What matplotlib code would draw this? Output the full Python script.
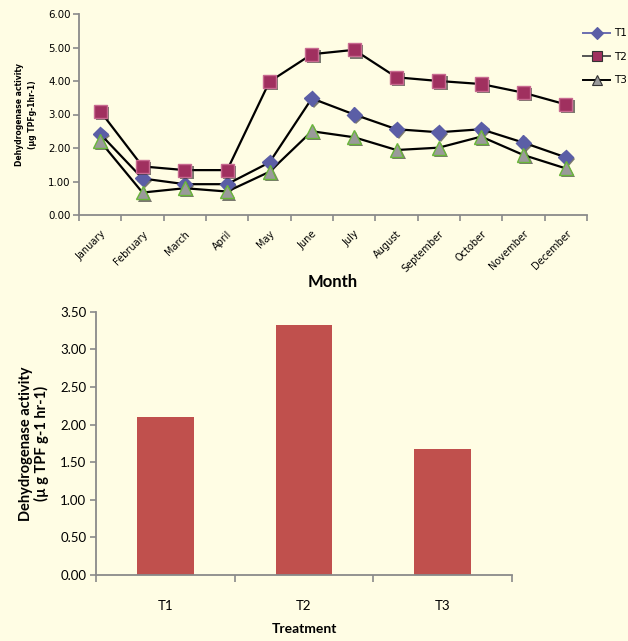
import matplotlib
matplotlib.use("Agg")
import matplotlib.pyplot as plt
import matplotlib.patheffects as pe
from matplotlib.lines import Line2D
import numpy as np

# Monthly dehydrogenase activity (ug TPF g-1 hr-1) per treatment
months = ['January', 'February', 'March', 'April', 'May', 'June', 'July',
          'August', 'September', 'October', 'November', 'December']
t1 = [2.42, 1.09, 0.92, 0.92, 1.57, 3.48, 3.00, 2.56, 2.47, 2.56, 2.16, 1.72]
t2 = [3.10, 1.45, 1.34, 1.34, 3.98, 4.80, 4.93, 4.11, 4.00, 3.91, 3.65, 3.30]
t3 = [2.20, 0.67, 0.80, 0.70, 1.29, 2.50, 2.32, 1.94, 2.01, 2.34, 1.79, 1.39]

# Annual mean per treatment
treatments = ['T1', 'T2', 'T3']
means = [2.10, 3.32, 1.68]

BG = '#FFFDE4'
AXIS_GRAY = '#8a8a8a'

W, H = 628, 641
fig = plt.figure(figsize=(W / 100, H / 100), dpi=100, facecolor=BG)


def px_axes(left, top, right, bottom):
    return fig.add_axes([left / W, 1 - bottom / H, (right - left) / W, (bottom - top) / H])


def style_axes(ax):
    ax.set_facecolor(BG)
    for side in ('top', 'right'):
        ax.spines[side].set_visible(False)
    for side in ('left', 'bottom'):
        ax.spines[side].set_color(AXIS_GRAY)
        ax.spines[side].set_linewidth(1.3)
    ax.tick_params(which='both', color=AXIS_GRAY, width=1.2)


# ---- line chart ----
ax1 = px_axes(79, 14, 587, 215)
style_axes(ax1)
x = np.arange(len(months))
shadow = [pe.SimplePatchShadow(offset=(1.5, -1.5), shadow_rgbFace='#222222', alpha=0.6), pe.Normal()]

series = [
    (t1, 'D', 7.5, '#5B5EA6', '#5B5EA6', '#6B6EB0'),
    (t2, 's', 9.5, '#A0305F', '#C86A90', '#555555'),
    (t3, '^', 10, '#9A9A9A', '#6AB63A', '#000000'),
]
handles = []
for vals, mk, ms, face, edge, leg_line in series:
    ax1.plot(x, vals, color='black', lw=1.6, zorder=2)
    ax1.plot(x, vals, ls='none', marker=mk, ms=ms, mfc=face, mec=edge, mew=1.0,
             zorder=3, path_effects=shadow)
    handles.append(Line2D([], [], color=leg_line, lw=1.4, marker=mk, ms=ms * 0.75,
                          mfc=face, mec='#333333' if mk != 'D' else face, mew=0.8))

ax1.set_xlim(-0.5, len(months) - 0.5)
ax1.set_ylim(0, 6)
ax1.set_yticks(np.arange(0, 6.01, 1))
ax1.set_yticklabels([f'{v:.2f}' for v in np.arange(0, 6.01, 1)], fontsize=7.4, family='DejaVu Sans')
ax1.set_xticks(x)
ax1.set_xticklabels(months, rotation=45, ha='right', rotation_mode='anchor',
                    fontsize=7, family='DejaVu Sans')
ax1.set_xticks(np.arange(-0.5, len(months)), minor=True)
ax1.tick_params(axis='x', which='major', length=0, pad=10)
ax1.tick_params(axis='x', which='minor', length=4, direction='out')
ax1.tick_params(axis='y', which='major', length=4, direction='out', pad=2)
ax1.set_ylabel('Dehydrogenase activity\n(µg TPFg-1hr-1)', fontsize=5.5,
               family='DejaVu Sans', fontweight='bold', linespacing=1.6, labelpad=8)
ax1.set_xlabel('Month', fontsize=12, family='Lato', fontweight='bold', labelpad=0)

fig.legend(handles, ['T1', 'T2', 'T3'], loc='upper left',
           bbox_to_anchor=(574 / W, 1 - 19 / H), frameon=False,
           handlelength=2.6, handletextpad=0.3, labelspacing=1.3,
           prop={'family': 'DejaVu Sans', 'size': 7.5})

# ---- bar chart ----
ax2 = px_axes(96, 311.7, 512, 575)
style_axes(ax2)
xb = np.arange(len(treatments))
ax2.bar(xb, means, width=0.41, color='#C0504D', zorder=2)
ax2.set_xlim(-0.5, len(treatments) - 0.5)
ax2.set_ylim(0, 3.5)
yt = np.arange(0, 3.51, 0.5)
ax2.set_yticks(yt)
ax2.set_yticklabels([f'{v:.2f}' for v in yt], fontsize=9.5, family='Lato')
ax2.set_xticks(xb)
ax2.set_xticklabels(treatments, fontsize=9.5, family='Lato')
ax2.set_xticks(np.arange(-0.5, len(treatments)), minor=True)
ax2.tick_params(axis='x', which='major', length=0, pad=18)
ax2.tick_params(axis='x', which='minor', length=5, direction='out')
ax2.tick_params(axis='y', which='major', length=4, direction='out', pad=3)
ax2.set_ylabel('Dehydrogenase activity\n(µ g TPF g-1 hr-1)', fontsize=10.5,
               family='Lato', fontweight='bold', linespacing=1.1, labelpad=8)
ax2.set_xlabel('Treatment', fontsize=10, family='Lato', fontweight='bold', labelpad=8)

fig.savefig('out.png', dpi=100, facecolor=BG)
